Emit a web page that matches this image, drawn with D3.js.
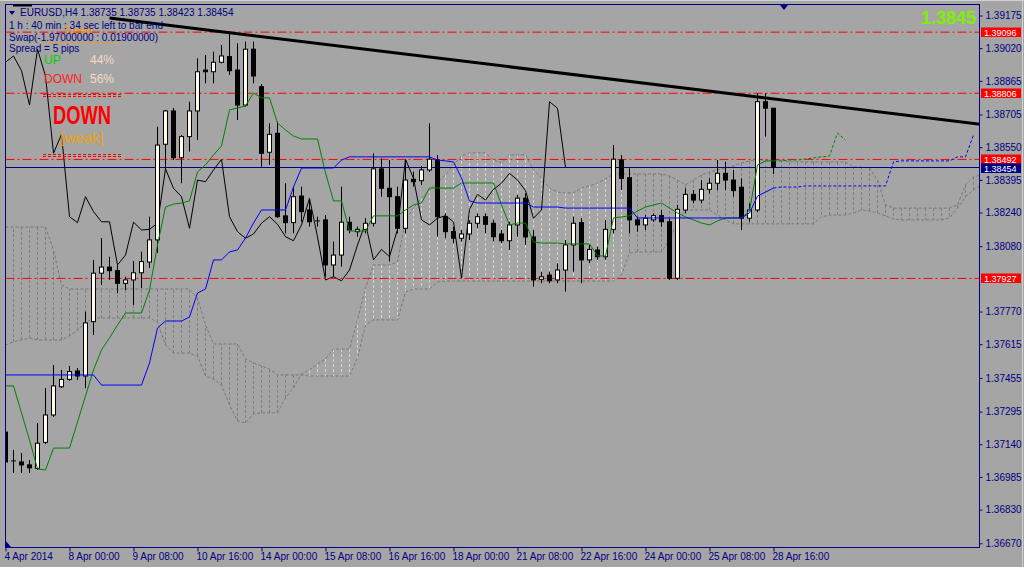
<!DOCTYPE html>
<html><head><meta charset="utf-8">
<script src="https://cdn.jsdelivr.net/npm/d3@7"></script>
<style>
html,body{margin:0;padding:0;background:#a5a5a5;overflow:hidden}
svg{display:block}
text{font-family:"Liberation Sans",Arial,sans-serif}
</style></head><body>
<svg id="c" width="1024" height="567"></svg>
<script>
// ---------- DATA (EURUSD H4, bars 0..96; future bars up to 122) ----------
const xTickBars = [0,8,16,24,32,40,48,56,64,72,80,88,96];
const xTickLabels = ["4 Apr 2014","8 Apr 00:00","9 Apr 08:00","10 Apr 16:00","14 Apr 00:00","15 Apr 08:00","16 Apr 16:00","18 Apr 00:00","21 Apr 08:00","22 Apr 16:00","24 Apr 00:00","25 Apr 08:00","28 Apr 16:00"];
const yTickValues = [1.39175,1.39020,1.38865,1.38705,1.38550,1.38395,1.38240,1.38080,1.37770,1.37615,1.37455,1.37295,1.37140,1.36985,1.36830,1.36670];

const opens = [1.37198,1.37061,1.37056,1.37042,1.37026,1.37149,1.37279,1.37413,1.37448,1.37488,
1.37464,1.37722,1.37952,1.37981,1.37964,1.37904,1.37920,1.37954,1.38005,1.38110,
1.38564,1.38722,1.38500,1.38600,1.38722,1.38916,1.38908,1.38953,1.38980,1.38916,
1.38750,1.39015,1.38837,1.38526,1.38616,1.38224,1.38192,1.38318,1.38252,1.38200,
1.38205,1.37991,1.38038,1.38194,1.38149,1.38160,1.38189,1.38447,1.38355,1.38315,
1.38165,1.38398,1.38391,1.38442,1.38489,1.38220,1.38149,1.38118,1.38138,1.38189,
1.38220,1.38189,1.38138,1.38106,1.38181,1.38308,1.38124,1.37923,1.37943,1.37920,
1.37967,1.38086,1.38192,1.38015,1.38062,1.38030,1.38160,1.38489,1.38405,1.38205,
1.38181,1.38205,1.38225,1.38196,1.37928,1.38252,1.38326,1.38299,1.38350,1.38379,
1.38426,1.38394,1.38360,1.38213,1.38252,1.38766,1.38735];
const highs = [1.37265,1.37113,1.37099,1.37065,1.37241,1.37407,1.37516,1.37493,1.37512,1.37502,
1.37769,1.38015,1.38119,1.38030,1.37991,1.37935,1.38010,1.38054,1.38220,1.38647,
1.38727,1.38736,1.38608,1.38766,1.38972,1.38988,1.39003,1.39035,1.39098,1.39043,
1.39051,1.39051,1.38850,1.38663,1.38671,1.38379,1.38363,1.38363,1.38299,1.38220,
1.38228,1.38102,1.38363,1.38220,1.38173,1.38213,1.38521,1.38497,1.38489,1.38363,
1.38489,1.38434,1.38461,1.38663,1.38513,1.38236,1.38173,1.38157,1.38205,1.38236,
1.38236,1.38205,1.38157,1.38196,1.38323,1.38331,1.38157,1.37958,1.37959,1.37999,
1.38110,1.38220,1.38213,1.38086,1.38078,1.38205,1.38560,1.38513,1.38450,1.38220,
1.38228,1.38236,1.38252,1.38213,1.38276,1.38355,1.38347,1.38394,1.38402,1.38489,
1.38481,1.38442,1.38402,1.38284,1.38806,1.38806,1.38735];
const lows = [1.37037,1.37004,1.37004,1.37004,1.37018,1.37141,1.37270,1.37407,1.37442,1.37445,
1.37406,1.37659,1.37896,1.37920,1.37857,1.37872,1.37801,1.37882,1.37977,1.38048,
1.38442,1.38489,1.38379,1.38529,1.38584,1.38853,1.38853,1.38948,1.38893,1.38679,
1.38742,1.38853,1.38457,1.38466,1.38215,1.38141,1.38141,1.38196,1.38173,1.38173,
1.37935,1.37935,1.37983,1.38141,1.38125,1.38141,1.38173,1.38315,1.38007,1.38141,
1.38141,1.38363,1.38371,1.38432,1.38125,1.38118,1.38094,1.38102,1.38109,1.38165,
1.38141,1.38102,1.38094,1.38062,1.38125,1.38086,1.37888,1.37904,1.37904,1.37904,
1.37864,1.37959,1.37904,1.37999,1.38015,1.38015,1.38141,1.38347,1.38141,1.38149,
1.38157,1.38196,1.38173,1.37920,1.37920,1.38236,1.38284,1.38284,1.38331,1.38347,
1.38347,1.38315,1.38157,1.38196,1.38242,1.38600,1.38423];
const closes = [1.37056,1.37058,1.37042,1.37028,1.37145,1.37279,1.37417,1.37448,1.37485,1.37464,
1.37716,1.37952,1.37981,1.37964,1.37904,1.37920,1.37954,1.38007,1.38110,1.38560,
1.38722,1.38500,1.38600,1.38722,1.38908,1.38908,1.38953,1.38983,1.38913,1.38750,
1.39015,1.38888,1.38521,1.38611,1.38220,1.38192,1.38315,1.38244,1.38196,1.38196,
1.37991,1.38038,1.38194,1.38157,1.38160,1.38189,1.38447,1.38355,1.38315,1.38165,
1.38394,1.38386,1.38442,1.38493,1.38220,1.38149,1.38118,1.38138,1.38189,1.38220,
1.38184,1.38125,1.38106,1.38181,1.38308,1.38124,1.37920,1.37935,1.37916,1.37967,
1.38086,1.38189,1.38015,1.38065,1.38030,1.38160,1.38493,1.38402,1.38205,1.38181,
1.38213,1.38225,1.38196,1.37928,1.38255,1.38326,1.38299,1.38350,1.38379,1.38426,
1.38394,1.38344,1.38213,1.38252,1.38766,1.38735,1.38454];

// Ichimoku Tenkan-sen (green) and its dashed projection
const tenkan = [1.37417,1.37417,1.37289,1.37160,1.37023,1.37018,1.37122,1.37122,1.37122,1.37246,
1.37369,1.37493,1.37588,1.37645,1.37706,1.37763,1.37763,1.37763,1.37872,1.38086,
1.38266,1.38280,1.38285,1.38295,1.38432,1.38466,1.38513,1.38556,1.38727,1.38736,
1.38746,1.38807,1.38784,1.38784,1.38665,1.38632,1.38603,1.38589,1.38589,1.38589,
1.38428,1.38295,1.38295,1.38152,1.38152,1.38152,1.38224,1.38224,1.38224,1.38224,
1.38252,1.38276,1.38285,1.38356,1.38356,1.38356,1.38356,1.38380,1.38380,1.38380,
1.38380,1.38380,1.38276,1.38181,1.38190,1.38190,1.38100,1.38095,1.38095,1.38095,
1.38091,1.38091,1.38091,1.38091,1.38034,1.38034,1.38214,1.38219,1.38224,1.38247,
1.38266,1.38276,1.38285,1.38261,1.38238,1.38219,1.38205,1.38190,1.38181,1.38200,
1.38214,1.38214,1.38214,1.38247,1.38466,1.38485,1.38485];
const tenkanFwd = [1.38485,1.38489,1.38489,1.38494,1.38499,1.38504,1.38508,1.38617,1.38584];
// Ichimoku Kijun-sen (blue) and its dashed projection
const kijun = [1.37469,1.37469,1.37469,1.37469,1.37469,1.37469,1.37469,1.37469,1.37469,1.37469,
1.37469,1.37469,1.37421,1.37421,1.37421,1.37421,1.37421,1.37421,1.37526,1.37692,
1.37725,1.37725,1.37725,1.37744,1.37858,1.37877,1.38015,1.38015,1.38053,1.38062,
1.38119,1.38190,1.38252,1.38252,1.38252,1.38252,1.38361,1.38451,1.38451,1.38451,
1.38451,1.38451,1.38489,1.38504,1.38504,1.38504,1.38504,1.38504,1.38504,1.38504,
1.38504,1.38504,1.38504,1.38504,1.38489,1.38485,1.38480,1.38404,1.38295,1.38285,
1.38285,1.38285,1.38285,1.38285,1.38285,1.38285,1.38266,1.38266,1.38266,1.38266,
1.38261,1.38261,1.38261,1.38261,1.38261,1.38261,1.38261,1.38261,1.38261,1.38214,
1.38214,1.38214,1.38214,1.38214,1.38214,1.38214,1.38214,1.38214,1.38214,1.38214,
1.38214,1.38214,1.38214,1.38238,1.38318,1.38337,1.38356];
const kijunFwd = [1.38361,1.38361,1.38361,1.38366,1.38366,1.38366,1.38366,1.38366,1.38366,1.38366,
1.38366,1.38366,1.38366,1.38366,1.38480,1.38485,1.38485,1.38485,1.38485,1.38485,
1.38485,1.38485,1.38504,1.38504,1.38608];
// Cloud edges (bars 0..122)
const spanB = [1.38171,1.38171,1.38171,1.38171,1.38171,1.38171,1.38062,1.37896,1.37877,1.37877,
1.37877,1.37877,1.37877,1.37877,1.37877,1.37877,1.37877,1.37877,1.37877,1.37877,
1.37877,1.37877,1.37877,1.37877,1.37834,1.37706,1.37616,1.37616,1.37616,1.37616,
1.37545,1.37526,1.37512,1.37497,1.37469,1.37469,1.37469,1.37469,1.37464,1.37464,
1.37464,1.37464,1.37464,1.37464,1.37550,1.37706,1.37730,1.37730,1.37730,1.37730,
1.37863,1.37877,1.37877,1.37877,1.37910,1.37915,1.37915,1.37915,1.37915,1.37915,
1.37915,1.37915,1.37915,1.37915,1.37915,1.37915,1.37915,1.37915,1.37915,1.37915,
1.37915,1.37915,1.37915,1.37915,1.37915,1.37915,1.37915,1.37943,1.38048,1.38053,
1.38053,1.38053,1.38053,1.38110,1.38195,1.38252,1.38252,1.38252,1.38252,1.38228,
1.38205,1.38186,1.38186,1.38186,1.38186,1.38186,1.38186,1.38186,1.38186,1.38186,
1.38186,1.38186,1.38219,1.38228,1.38228,1.38228,1.38238,1.38252,1.38247,1.38238,
1.38224,1.38209,1.38205,1.38205,1.38205,1.38205,1.38205,1.38205,1.38214,1.38261,
1.38314,1.38347,1.38371];
const spanA = [1.37611,1.37626,1.37635,1.37645,1.37635,1.37635,1.37635,1.37635,1.37654,1.37682,
1.37716,1.37739,1.37739,1.37739,1.37739,1.37739,1.37739,1.37739,1.37739,1.37720,
1.37611,1.37573,1.37573,1.37573,1.37559,1.37464,1.37450,1.37421,1.37327,1.37251,
1.37241,1.37284,1.37289,1.37289,1.37289,1.37360,1.37407,1.37474,1.37493,1.37521,
1.37545,1.37592,1.37592,1.37592,1.37730,1.37882,1.37991,1.37991,1.37991,1.38005,
1.38205,1.38261,1.38309,1.38347,1.38385,1.38418,1.38466,1.38508,1.38523,1.38523,
1.38523,1.38489,1.38475,1.38513,1.38513,1.38513,1.38442,1.38404,1.38356,1.38337,
1.38333,1.38333,1.38356,1.38366,1.38380,1.38399,1.38423,1.38423,1.38423,1.38423,
1.38423,1.38423,1.38423,1.38413,1.38394,1.38371,1.38394,1.38418,1.38432,1.38442,
1.38451,1.38461,1.38475,1.38485,1.38489,1.38489,1.38489,1.38489,1.38480,1.38480,
1.38480,1.38480,1.38480,1.38480,1.38480,1.38480,1.38456,1.38456,1.38451,1.38394,
1.38276,1.38261,1.38261,1.38261,1.38261,1.38261,1.38261,1.38261,1.38261,1.38276,
1.38371,1.38409,1.38418];
// hatch tone of the cloud per stretch of bars: "light" or "dark"
const cloudToneBreaks = [{from:0,to:37,tone:"dark"},{from:38,to:77,tone:"light"},{from:78,to:122,tone:"dark"}];
const chikouShift = 26;
const redLevels = [1.39096,1.38806,1.38492,1.37927];
const bidPrice = 1.38454;
const trendPts = [{bar:13,price:1.39163},{bar:94,price:1.38788}];
const headerLines = ["EURUSD,H4  1.38735 1.38735 1.38423 1.38454","1 h : 40 min : 34 sec left to bar end","Swap(-1.97000000 : 0.01900000)","Spread = 5 pips"];
const upPct = "44%", downPct = "56%", bigPrice = "1.3845";

// ---------- DRAW ----------
const W=1024,H=567;
const svg=d3.select('#c');
const navy='#000080';
svg.append('rect').attr('width',W).attr('height',H).attr('fill','#a5a5a5');
svg.append('line').attr('x1',0).attr('x2',W).attr('y1',0.5).attr('y2',0.5).attr('stroke','#d0d0d0');
svg.append('line').attr('x1',1022.5).attr('x2',1022.5).attr('y1',0).attr('y2',H).attr('stroke','#d0d0d0');

const P={l:5.5,r:979.5,t:4.5,b:547.5};
const x=d3.scaleLinear().domain([0,122]).range([5.5,981.5]);
const y=d3.scaleLinear().domain([1.36670,1.39175]).range([543.3,15.5]);

svg.append('clipPath').attr('id','clip').append('rect')
  .attr('x',P.l).attr('y',P.t).attr('width',P.r-P.l).attr('height',P.b-P.t);
const g=svg.append('g').attr('clip-path','url(#clip)');

// cloud hatching
const toneOf=i=>cloudToneBreaks.find(b=>i>=b.from&&i<=b.to).tone;
const cloud=g.append('g');
spanA.forEach((a,i)=>{
  const b=spanB[i];
  cloud.append('line').attr('x1',x(i)).attr('x2',x(i))
    .attr('y1',y(a)).attr('y2',y(b))
    .attr('stroke', toneOf(i)==='light' ? '#d4d4d4' : '#7e7e7e')
    .attr('stroke-dasharray','3,2').attr('stroke-width',1);
});
const lineGen=d3.line().x((d,i)=>x(i)).y(d=>y(d));
[spanA,spanB].forEach(s=>cloud.append('path').attr('d',lineGen(s)).attr('fill','none')
  .attr('stroke','#787878').attr('stroke-dasharray','3,2'));

// chikou (close shifted back)
const chikou=closes.slice(chikouShift);
g.append('path').attr('d',lineGen(chikou)).attr('fill','none').attr('stroke','#000').attr('stroke-width',1);

// red levels and bid line
redLevels.forEach(v=>g.append('line').attr('x1',P.l).attr('x2',P.r)
  .attr('y1',y(v)).attr('y2',y(v)).attr('stroke','#ff0000').attr('stroke-dasharray','9,3,2,3'));
g.append('line').attr('x1',P.l).attr('x2',P.r).attr('y1',Math.round(y(bidPrice))+0.5).attr('y2',Math.round(y(bidPrice))+0.5)
  .attr('stroke',navy);

// candles
const cg=g.append('g');
closes.forEach((c,i)=>{
  const o=opens[i], xc=x(i);
  cg.append('line').attr('x1',xc).attr('x2',xc).attr('y1',y(highs[i])).attr('y2',y(lows[i])).attr('stroke','#000');
  const top=Math.min(y(o),y(c)), h=Math.abs(y(o)-y(c));
  if(h<1.2){
    cg.append('line').attr('x1',xc-2.5).attr('x2',xc+2.5).attr('y1',top).attr('y2',top).attr('stroke','#000');
  } else {
    cg.append('rect').attr('x',xc-2).attr('width',4).attr('y',top).attr('height',h)
      .attr('fill', c>=o ? '#fffbea' : '#000').attr('stroke','#000');
  }
});

// tenkan / kijun
g.append('path').attr('d',lineGen(tenkan)).attr('fill','none').attr('stroke','#008000');
g.append('path').attr('d',lineGen(kijun)).attr('fill','none').attr('stroke','#0000ff');
const fwd=(base,arr)=>[base[base.length-1]].concat(arr);
const lineFwd=d3.line().x((d,i)=>x(96+i)).y(d=>y(d));
g.append('path').attr('d',lineFwd(fwd(tenkan,tenkanFwd))).attr('fill','none').attr('stroke','#008000').attr('stroke-dasharray','3,2');
g.append('path').attr('d',lineFwd(fwd(kijun,kijunFwd))).attr('fill','none').attr('stroke','#0000ff').attr('stroke-dasharray','3,2');

// trendline (ray)
const slope=(trendPts[1].price-trendPts[0].price)/(trendPts[1].bar-trendPts[0].bar);
const endBar=122;
g.append('line').attr('x1',x(trendPts[0].bar)).attr('y1',y(trendPts[0].price))
  .attr('x2',x(endBar)).attr('y2',y(trendPts[0].price+slope*(endBar-trendPts[0].bar)))
  .attr('stroke','#000').attr('stroke-width',3);

// frame
svg.append('rect').attr('x',P.l).attr('y',P.t).attr('width',P.r-P.l).attr('height',P.b-P.t)
  .attr('fill','none').attr('stroke',navy);

// right axis
const ya=svg.append('g').attr('transform',`translate(${P.r},0)`)
  .call(d3.axisRight(y).tickValues(yTickValues).tickFormat(d3.format('.5f')).tickSize(3).tickPadding(3));
ya.select('.domain').remove();
ya.selectAll('line').attr('stroke',navy);
ya.selectAll('text').attr('fill',navy).style('font-size','10px').attr('font-family','Liberation Sans');

// bottom axis
const xa=svg.append('g').attr('transform',`translate(0,${P.b})`)
  .call(d3.axisBottom(x).tickValues(xTickBars).tickFormat((d,i)=>xTickLabels[i]).tickSize(4));
xa.select('.domain').remove();
xa.selectAll('line').attr('stroke',navy);
xa.selectAll('text').attr('fill',navy).style('font-size','10px').attr('text-anchor','start')
  .attr('x',-1.5).attr('y',5).attr('dy','0.71em');

// price labels
function tag(v,fill,dy){
  const yy=Math.round(y(v))+dy;
  svg.append('rect').attr('x',981).attr('y',yy-4.5).attr('width',40).attr('height',9.5).attr('fill',fill);
  svg.append('text').attr('x',984).attr('y',yy+3.5).attr('fill','#fff').style('font-size','9px').text(d3.format('.5f')(v));
}
redLevels.forEach(v=>tag(v,'#ff0000',0));
tag(bidPrice,navy,1);

// markers
svg.append('path').attr('d','M780,5 L788,5 L784,10 Z').attr('fill',navy);
svg.append('path').attr('d','M5,540 L5,547 L11,547 Z').attr('fill',navy);
svg.append('path').attr('d','M9,11 L15,11 L12,15 Z').attr('fill',navy);
svg.append('line').attr('x1',13).attr('x2',32).attr('y1',5.5).attr('y2',5.5).attr('stroke','#000').attr('stroke-width',2);

// indicator panel text (drawn under the header, as in the terminal)
svg.append('text').attr('x',64).attr('y',34).attr('fill','#ff9a00').style('font-size','11px').text('Trend');
svg.append('line').attr('x1',43).attr('x2',122).attr('y1',43.5).attr('y2',43.5).attr('stroke','#ff9a00').attr('stroke-dasharray','3,2');

// header text
const hy=[16,29,41,52];
headerLines.forEach((t,i)=>svg.append('text').attr('x',i===0?20:9).attr('y',hy[i]).attr('fill',navy)
  .style('font-size','10px').text(t));

svg.append('text').attr('x',44).attr('y',63.5).attr('fill','#00d000').style('font-size','12px').text('UP');
svg.append('text').attr('x',90).attr('y',63.5).attr('fill','#f3dcc4').style('font-size','12px').text(upPct);
svg.append('text').attr('x',44).attr('y',83).attr('fill','#ff2020').style('font-size','12px').text('DOWN');
svg.append('text').attr('x',90).attr('y',83).attr('fill','#f3dcc4').style('font-size','12px').text(downPct);
[94.5,96.5,154.5,156.5].forEach(v=>svg.append('line').attr('x1',43).attr('x2',122).attr('y1',v).attr('y2',v)
  .attr('stroke','#ff0000').attr('stroke-dasharray','3,2'));
svg.append('text').attr('x',53).attr('y',124).attr('fill','#ff0000').style('font-size','25px').style('font-weight','bold')
  .attr('textLength',58).attr('lengthAdjust','spacingAndGlyphs').text('DOWN');
svg.append('text').attr('x',60).attr('y',143).attr('fill','#f0a000').style('font-size','15px').text('[weak]');

// big price
svg.append('text').attr('x',976).attr('y',24).attr('text-anchor','end').attr('fill','#80f000')
  .style('font-size','18px').style('font-weight','bold').text(bigPrice);
</script>
</body></html>
